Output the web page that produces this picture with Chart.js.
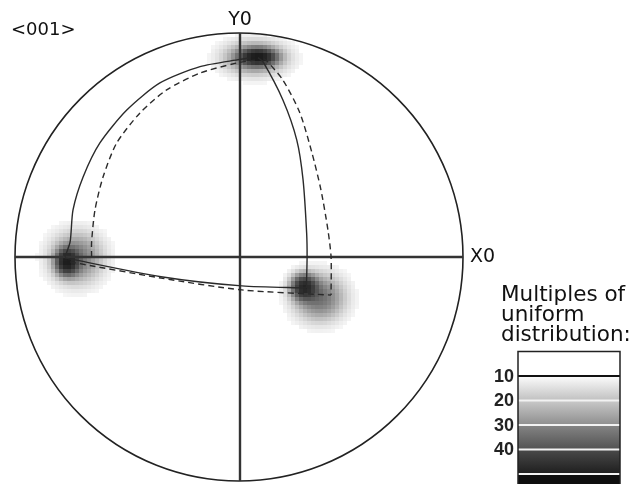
<!DOCTYPE html>
<html>
<head>
<meta charset="utf-8">
<script src="https://cdn.jsdelivr.net/npm/chart.js@4.4.0/dist/chart.umd.min.js"></script>
<style>
  html, body { margin: 0; padding: 0; background: #fff; }
  canvas { display: block; }
</style>
</head>
<body>
<canvas id="poleFigure" width="632" height="484"></canvas>
<script>
/*
    *data : projection units, the circle has radius 1
*/
const solidLeftArc = [[-0.777, 0], [-0.754, 0.067], [-0.741, 0.210], [-0.696, 0.357], [-0.621, 0.509],
    [-0.501, 0.656], [-0.353, 0.777], [-0.174, 0.850], [0.004, 0.882], [0.050, 0.889]];
const dashedLeftArc = [[-0.658, 0], [-0.658, 0.067], [-0.643, 0.210], [-0.607, 0.357], [-0.546, 0.509],
    [-0.442, 0.643], [-0.323, 0.746], [-0.174, 0.821], [-0.010, 0.866], [0.071, 0.879]];
const solidRightArc = [[0.085, 0.890], [0.107, 0.872], [0.196, 0.701], [0.258, 0.522], [0.286, 0.344],
    [0.302, 0.107], [0.304, 0], [0.301, -0.138]];
const dashedRightArc = [[0.110, 0.885], [0.121, 0.879], [0.196, 0.790], [0.272, 0.643], [0.326, 0.464],
    [0.366, 0.299], [0.397, 0.121], [0.411, 0], [0.411, -0.170]];
const solidBottomArc = [[-0.777, -0.004], [-0.348, -0.088], [0.013, -0.129], [0.301, -0.138]];
const dashedBottomArc = [[-0.754, -0.022], [-0.348, -0.094], [0.013, -0.147], [0.411, -0.170]];

// intensity blobs (core + halo for each of the three poles)
const spotX       = [0.085, 0.071, -0.768, -0.725, 0.290, 0.360];
const spotY       = [0.893, 0.888, -0.022, -0.004, -0.134, -0.182];
const spotSpreadX = [0.048, 0.085, 0.030, 0.072, 0.035, 0.070];
const spotSpreadY = [0.022, 0.046, 0.035, 0.070, 0.035, 0.064];
const spotPeak    = [45, 18, 45, 17, 40, 18];

// colour scale
const legendLevels = [10, 20, 30, 40, 50];
const legendLabels = ['10', '20', '30', '40'];
const legendTitle = ['Multiples of', 'uniform', 'distribution:'];

const toPoints = arr => arr.map(p => ({ x: p[0], y: p[1] }));

function grayFor(d) {
    const g = Math.round(255 - 240 * (1 - Math.exp(-d / 20)));
    return 'rgb(' + g + ',' + g + ',' + g + ')';
}

const poleFigurePlugin = {
    id: 'poleFigure',
    beforeDatasetsDraw(chart) {
        const ctx = chart.ctx;
        const xs = chart.scales.x, ys = chart.scales.y;
        const cx = xs.getPixelForValue(0), cy = ys.getPixelForValue(0);
        const r = xs.getPixelForValue(1) - cx;

        //densite en petits carres
        const cell = 4;
        ctx.save();
        for (let px = Math.floor(cx - r); px < cx + r; px += cell) {
            for (let py = Math.floor(cy - r); py < cy + r; py += cell) {
                const u = xs.getValueForPixel(px + cell / 2);
                const v = ys.getValueForPixel(py + cell / 2);
                if (u * u + v * v > 1) continue;
                let d = 0;
                for (let i = 0; i < spotX.length; i++) {
                    const dx = (u - spotX[i]) / spotSpreadX[i];
                    const dy = (v - spotY[i]) / spotSpreadY[i];
                    d += spotPeak[i] * Math.exp(-0.5 * (dx * dx + dy * dy));
                }
                if (d < 0.8) continue;
                ctx.fillStyle = grayFor(d);
                ctx.fillRect(px, py, cell, cell);
            }
        }

        // cercle + axes
        ctx.strokeStyle = '#222';
        ctx.lineWidth = 1.6;
        ctx.beginPath();
        ctx.arc(cx, cy, r, 0, Math.PI * 2);
        ctx.stroke();

        ctx.strokeStyle = '#333';
        ctx.lineWidth = 2.4;
        ctx.beginPath();
        ctx.moveTo(xs.getPixelForValue(-1), cy);
        ctx.lineTo(xs.getPixelForValue(1), cy);
        ctx.moveTo(cx + 1, ys.getPixelForValue(1));
        ctx.lineTo(cx + 1, ys.getPixelForValue(-1));
        ctx.stroke();

        ctx.fillStyle = '#111';
        ctx.font = '19px "DejaVu Sans"';
        ctx.textBaseline = 'middle';
        ctx.textAlign = 'center';
        ctx.fillText('Y0', cx + 1, 20);
        ctx.textAlign = 'left';
        ctx.fillText('X0', xs.getPixelForValue(1) + 7, cy);
        ctx.font = '18px "DejaVu Sans"';
        ctx.fillText('<001>', 11, 30);
        ctx.restore();
    },
    afterDraw(chart) {
        const ctx = chart.ctx;
        const left = 518, right = 620, top = 351.5, step = 2.45;
        const levelY = lv => top + lv * step;
        const bandTop = ['#fdfdfd', '#c9c9c9', '#858585', '#4a4a4a'];
        const bandBottom = ['#c0c0c0', '#8e8e8e', '#525252', '#1e1e1e'];

        ctx.save();
        ctx.fillStyle = '#111';
        ctx.font = '21.5px "DejaVu Sans"';
        ctx.textAlign = 'left';
        ctx.textBaseline = 'alphabetic';
        legendTitle.forEach((t, i) => ctx.fillText(t, 501, 301 + i * 20));

        ctx.fillStyle = '#fff';
        ctx.fillRect(left, top, right - left, levelY(legendLevels[0]) - top);
        for (let i = 0; i < legendLevels.length - 1; i++) {
            const y0 = levelY(legendLevels[i]), y1 = levelY(legendLevels[i + 1]);
            const grad = ctx.createLinearGradient(0, y0, 0, y1);
            grad.addColorStop(0, bandTop[i]);
            grad.addColorStop(1, bandBottom[i]);
            ctx.fillStyle = grad;
            ctx.fillRect(left, y0, right - left, y1 - y0);
        }
        const last = levelY(legendLevels[legendLevels.length - 1]);
        ctx.fillStyle = '#0e0e0e';
        ctx.fillRect(left, last, right - left, chart.height - last);

        legendLevels.forEach((lv, i) => {
            ctx.strokeStyle = i === 0 ? '#111' : '#f2f2f2';
            ctx.lineWidth = 2;
            ctx.beginPath();
            ctx.moveTo(left, levelY(lv));
            ctx.lineTo(right, levelY(lv));
            ctx.stroke();
        });

        ctx.strokeStyle = '#222';
        ctx.lineWidth = 1.5;
        ctx.beginPath();
        ctx.moveTo(left, chart.height);
        ctx.lineTo(left, top);
        ctx.lineTo(right, top);
        ctx.lineTo(right, chart.height);
        ctx.stroke();

        ctx.fillStyle = '#222';
        ctx.font = 'bold 18px "Liberation Sans"';
        ctx.textAlign = 'right';
        ctx.textBaseline = 'middle';
        legendLabels.forEach((t, i) => ctx.fillText(t, 514, levelY(legendLevels[i]) + 1));
        ctx.restore();
    }
};

const traceStyle = (points, dashed) => ({
    data: toPoints(points),
    showLine: true,
    borderColor: '#2a2a2a',
    borderWidth: 1.4,
    borderDash: dashed ? [6, 4] : [],
    pointRadius: 0,
    tension: 0.25,
    fill: false
});

const chart = new Chart(document.getElementById('poleFigure'), {
    type: 'scatter',
    data: {
        datasets: [
            traceStyle(solidLeftArc, false),
            traceStyle(dashedLeftArc, true),
            traceStyle(solidRightArc, false),
            traceStyle(dashedRightArc, true),
            traceStyle(solidBottomArc, false),
            traceStyle(dashedBottomArc, true)
        ]
    },
    options: {
        responsive: false,
        animation: false,
        layout: { padding: { left: 15, right: 169, top: 33, bottom: 3 } },
        plugins: { legend: { display: false }, tooltip: { enabled: false } },
        scales: {
            x: { type: 'linear', min: -1, max: 1, display: false },
            y: { type: 'linear', min: -1, max: 1, display: false }
        }
    },
    plugins: [poleFigurePlugin]
});
</script>
</body>
</html>
